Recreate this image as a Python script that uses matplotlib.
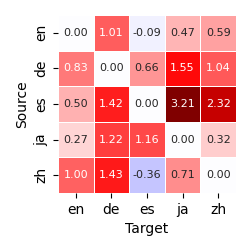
import numpy as np
import matplotlib
matplotlib.use("Agg")
import matplotlib.pyplot as plt
import seaborn as sns

langs = ["en", "de", "es", "ja", "zh"]
vals = np.array([
    [0.00, 1.01, -0.09, 0.47, 0.59],
    [0.83, 0.00, 0.66, 1.55, 1.04],
    [0.50, 1.42, 0.00, 3.21, 2.32],
    [0.27, 1.22, 1.16, 0.00, 0.32],
    [1.00, 1.43, -0.36, 0.71, 0.00],
])

fig = plt.figure(figsize=(2.5, 2.5), dpi=100)
ax = fig.add_axes([58/250, 1-193/250, 178/250, 178/250])
sns.heatmap(vals, ax=ax, cmap="seismic", center=0, annot=True, fmt=".2f",
            linewidths=0.5, linecolor="white", cbar=False, square=True,
            xticklabels=langs, yticklabels=langs, annot_kws={"size": 8})
ax.set_yticklabels(langs, rotation=90, va="center", fontsize=10)
ax.set_xticklabels(langs, rotation=0, fontsize=10)
ax.set_xlabel("Target", fontsize=10)
ax.set_ylabel("Source", fontsize=10)
fig.savefig("out.png", dpi=100)
